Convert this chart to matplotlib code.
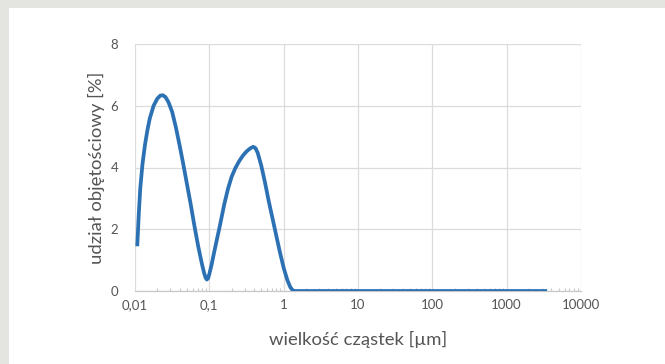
import matplotlib as mpl
mpl.use('Agg')
import matplotlib.pyplot as plt
from matplotlib.ticker import FixedLocator, LogLocator, NullFormatter
from matplotlib.patches import Rectangle
import numpy as np

plt.rcParams['font.family'] = ['Lato', 'DejaVu Sans']

########################################
# data

size_um = [0.01072, 0.01122, 0.01175, 0.01259, 0.01365, 0.01479, 0.01585, 0.01778,
           0.01995, 0.02188, 0.02371, 0.0257, 0.02818, 0.03162, 0.03548, 0.03981,
           0.04467, 0.05012, 0.05623, 0.0631, 0.07079, 0.07943, 0.08511, 0.08913,
           0.0926, 0.0966, 0.1, 0.1072, 0.1148, 0.1259, 0.1396, 0.1585, 0.1778,
           0.1995, 0.2239, 0.2512, 0.2818, 0.3162, 0.3548, 0.389, 0.4169,
           0.4467, 0.5012, 0.5623, 0.631, 0.7079, 0.7943, 0.8913, 1.0,
           1.122, 1.23, 1.318, 1.38, 3500.0]
volume_pct = [1.45, 2.45, 3.3, 4.1, 4.75, 5.25, 5.6, 6.0,
              6.23, 6.33, 6.34, 6.28, 6.12, 5.8, 5.3, 4.72,
              4.1, 3.45, 2.8, 2.1, 1.45, 0.88, 0.58, 0.43,
              0.37, 0.42, 0.55, 0.85, 1.2, 1.65, 2.15, 2.8, 3.3,
              3.7, 3.98, 4.2, 4.38, 4.52, 4.62, 4.67, 4.63,
              4.48, 4.05, 3.5, 2.9, 2.35, 1.8, 1.25, 0.75,
              0.35, 0.12, 0.03, 0.0, 0.0]

xticks = [0.01, 0.1, 1, 10, 100, 1000, 10000]
xticklabels = ['0,01', '0,1', '1', '10', '100', '1000', '10000']
yticks = [0, 2, 4, 6, 8]

########################################

fig = plt.figure(figsize=(6.65, 3.64), dpi=100)
fig.patch.set_facecolor('#e4e4e0')
fig.patches.append(Rectangle((8.5 / 665, 0), 1, 1 - 8 / 364, transform=fig.transFigure,
                             facecolor='white', edgecolor='none', zorder=-10))

ax = fig.add_axes([135 / 665, 1 - 291 / 364, (581 - 135) / 665, (291 - 44) / 364])
ax.set_facecolor('white')
ax.plot(size_um, volume_pct, color='#2b71b3', lw=2.7, solid_capstyle='butt',
        solid_joinstyle='round', zorder=3)

ax.set_xscale('log')
ax.set_xlim(0.01, 10000)
ax.set_ylim(0, 8)
ax.xaxis.set_major_locator(FixedLocator(xticks))
ax.set_xticklabels(xticklabels)
ax.xaxis.set_minor_locator(LogLocator(base=10, subs=np.arange(2, 10), numticks=20))
ax.xaxis.set_minor_formatter(NullFormatter())
ax.set_yticks(yticks)
ax.set_yticklabels([str(v) for v in yticks])

ax.grid(True, which='major', color='#dcdcdc', lw=0.9)
for s in ['top', 'right', 'left']:
    ax.spines[s].set_visible(False)
ax.spines['bottom'].set_color('#c8c8c8')
ax.spines['bottom'].set_linewidth(0.9)

ax.tick_params(axis='both', which='major', length=0, labelsize=9.5, labelcolor='#555555', pad=6)
ax.tick_params(axis='x', which='minor', direction='in', length=2.5, color='#c8c8c8', width=0.8)
ax.tick_params(axis='y', pad=12)

ax.set_xlabel('wielkość cząstek [µm]', fontsize=13.3, color='#555555', labelpad=14)
ax.set_ylabel('udział objętościowy [%]', fontsize=13.3, color='#555555', labelpad=4)

plt.savefig('out.png', dpi=100, facecolor=fig.get_facecolor())
